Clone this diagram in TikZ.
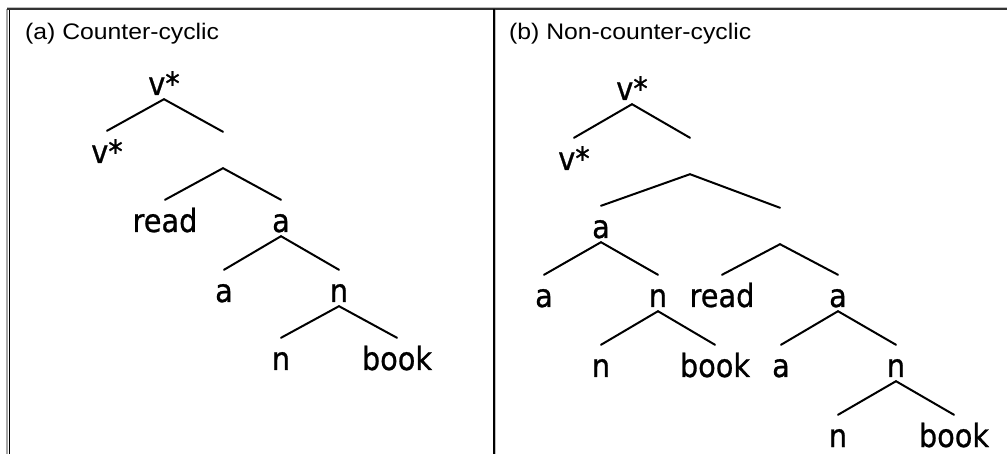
\documentclass[tikz,border=0pt]{standalone}
\usepackage{fontspec}
\newfontfamily\titlefont[FakeStretch=1.1]{Liberation Sans}
\newfontfamily\treefont[FakeStretch=0.9,FakeBold=0.8]{DejaVu Sans}
\begin{document}
\begin{tikzpicture}[x=1pt,y={(0pt,-1pt)},
  lab/.style={anchor=base,inner xsep=0pt,inner ysep=4pt,text height=28pt,text depth=0pt,
    font=\treefont\fontsize{32}{36}\selectfont},
  ttl/.style={anchor=base west,inner sep=0pt,font=\titlefont\fontsize{22.5}{27}\selectfont},
  br/.style={line width=2pt,black,line cap=round}]
\useasboundingbox (0,0) rectangle (1007,454);
% frame
\draw[line width=2pt,black!35] (7,9) -- (7,454);
\draw[line width=1.5pt,black] (9.5,9) -- (9.5,454);
\draw[line width=1pt,black!25] (7,7.5) -- (1007,7.5);
\draw[line width=1.3pt,black!80] (7,9) -- (1007,9);
\draw[line width=2pt,black] (493.8,9) -- (493.8,454);
\draw[line width=1pt,black!25] (495.5,10) -- (495.5,454);
% titles
\node[ttl] (ta) at (25,40) {(a) Counter-cyclic};
\node[ttl] (tb) at (509,40) {(b) Non-counter-cyclic};
% left tree
\node[lab] (L0) at (164,95) {v*};
\node[lab] (L1) at (107,163) {v*};
\node[lab] (L2) at (223,164) {};
\node[lab] (L3) at (165,232) {read};
\node[lab] (L4) at (281,232) {a};
\node[lab] (L5) at (224,302) {a};
\node[lab] (L6) at (339,302) {n};
\node[lab] (L7) at (281,370) {n};
\node[lab] (L8) at (397,370) {book};
\draw[br] (L1.north) -- (L0.south) -- (L2.north);
\draw[br] (L3.north) -- (L2.south) -- (L4.north);
\draw[br] (L5.north) -- (L4.south) -- (L6.north);
\draw[br] (L7.north) -- (L6.south) -- (L8.north);
% right tree
\node[lab] (R0) at (632,100) {v*};
\node[lab] (R1) at (574,170) {v*};
\node[lab] (R2) at (690,170) {};
\node[lab] (R3) at (601,238) {a};
\node[lab] (R4) at (780,240) {};
\node[lab] (R5) at (544,307) {a};
\node[lab] (R6) at (658,307) {n};
\node[lab] (R7) at (722,307) {read};
\node[lab] (R8) at (838,307) {a};
\node[lab] (R9) at (601,377) {n};
\node[lab] (R10) at (715,377) {book};
\node[lab] (R11) at (781,377) {a};
\node[lab] (R12) at (896,377) {n};
\node[lab] (R13) at (838,447) {n};
\node[lab] (R14) at (954,447) {book};
\draw[br] (R1.north) -- (R0.south) -- (R2.north);
\draw[br] (R3.north) -- (R2.south) -- (R4.north);
\draw[br] (R5.north) -- (R3.south) -- (R6.north);
\draw[br] (R7.north) -- (R4.south) -- (R8.north);
\draw[br] (R9.north) -- (R6.south) -- (R10.north);
\draw[br] (R11.north) -- (R8.south) -- (R12.north);
\draw[br] (R13.north) -- (R12.south) -- (R14.north);
\end{tikzpicture}
\end{document}
